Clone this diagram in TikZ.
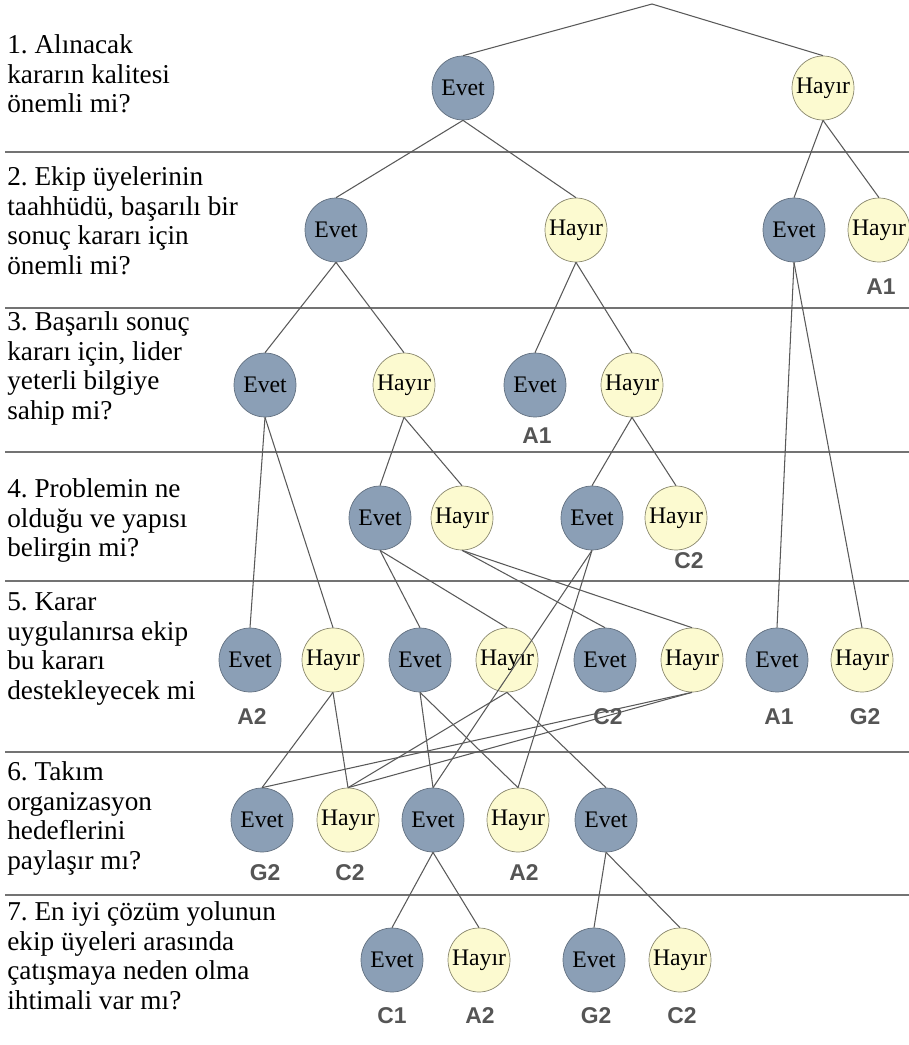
\documentclass[tikz,border=0pt]{standalone}
\usepackage{fontspec}
\setmainfont{Liberation Serif}
\setsansfont{Liberation Sans}
\usepackage{xcolor}
\usepackage{tikz}
\usetikzlibrary{shapes.geometric}
\frenchspacing

\definecolor{evetrenk}{RGB}{139,159,182}
\definecolor{evetkenar}{RGB}{98,112,128}
\definecolor{hayirrenk}{RGB}{252,250,208}
\definecolor{hayirkenar}{RGB}{138,136,110}
\definecolor{sonucgri}{RGB}{85,85,85}

\begin{document}
\begin{tikzpicture}[x=0.02cm, y=-0.02cm,
    cevap/.style={ellipse, draw, minimum width=1.24cm, minimum height=1.28cm, inner xsep=-3pt, inner ysep=0pt, font=\fontsize{13.5}{15}\selectfont},
    evet/.style={cevap, fill=evetrenk, draw=evetkenar},
    hayir/.style={cevap, fill=hayirrenk, draw=hayirkenar},
    soru/.style={anchor=north west, align=left, inner sep=0pt, font=\fontsize{15.5}{17}\selectfont},
    sonuc/.style={font=\sffamily\bfseries\fontsize{13}{15}\selectfont, text=sonucgri},
    kol/.style={draw=black!65, line width=0.6pt},
    ayrac/.style={draw=black!55, line width=1.1pt}
]
\useasboundingbox (0,0) rectangle (909,1045);

\draw[ayrac] (5,152) -- (909,152);
\draw[ayrac] (5,308) -- (909,308);
\draw[ayrac] (5,452) -- (909,452);
\draw[ayrac] (5,581) -- (909,581);
\draw[ayrac] (5,752) -- (909,752);
\draw[ayrac] (5,895) -- (909,895);

\node[soru] at (7,34) (q1) {1. Alınacak\\kararın kalitesi\\önemli mi?};
\node[soru] at (7,166) (q2) {2. Ekip üyelerinin\\taahhüdü, başarılı bir\\sonuç kararı için\\önemli mi?};
\node[soru] at (7,311) (q3) {3. Başarılı sonuç\\kararı için, lider\\yeterli bilgiye\\sahip mi?};
\node[soru] at (7,478) (q4) {4. Problemin ne\\olduğu ve yapısı\\belirgin mi?};
\node[soru] at (7,592) (q5) {5. Karar\\uygulanırsa ekip\\bu kararı\\destekleyecek mi};
\node[soru] at (7,761) (q6) {6. Takım\\organizasyon\\hedeflerini\\paylaşır mı?};
\node[soru] at (7,901) (q7) {7. En iyi çözüm yolunun\\ekip üyeleri arasında\\çatışmaya neden olma\\ihtimali var mı?};

\coordinate (tepe) at (652,4);

\node[evet] at (463,88) (e1) {Evet};
\node[hayir] at (823,88) (h1) {Hayır};

\node[evet] at (336,230) (e2a) {Evet};
\node[hayir] at (576,230) (h2a) {Hayır};
\node[evet] at (794,230) (e2b) {Evet};
\node[hayir] at (879,230) (h2b) {Hayır};

\node[evet] at (265,385) (e3a) {Evet};
\node[hayir] at (404,385) (h3a) {Hayır};
\node[evet] at (535,385) (e3b) {Evet};
\node[hayir] at (632,385) (h3b) {Hayır};

\node[evet] at (380,518) (e4a) {Evet};
\node[hayir] at (462,518) (h4a) {Hayır};
\node[evet] at (592,518) (e4b) {Evet};
\node[hayir] at (676,518) (h4b) {Hayır};

\node[evet] at (250,660) (e5a) {Evet};
\node[hayir] at (333,660) (h5b) {Hayır};
\node[evet] at (420,660) (e5c) {Evet};
\node[hayir] at (507,660) (h5d) {Hayır};
\node[evet] at (605,660) (e5e) {Evet};
\node[hayir] at (692,660) (h5f) {Hayır};
\node[evet] at (777,660) (e5g) {Evet};
\node[hayir] at (862,660) (h5h) {Hayır};

\node[evet] at (262,820) (e6a) {Evet};
\node[hayir] at (348,820) (h6b) {Hayır};
\node[evet] at (433,820) (e6c) {Evet};
\node[hayir] at (518,820) (h6d) {Hayır};
\node[evet] at (606,820) (e6e) {Evet};

\node[evet] at (392,960) (e7a) {Evet};
\node[hayir] at (479,960) (h7b) {Hayır};
\node[evet] at (594,960) (e7c) {Evet};
\node[hayir] at (680,960) (h7d) {Hayır};

\node[sonuc] at (881,287) (s2b) {A1};
\node[sonuc] at (537,436) (s3b) {A1};
\node[sonuc] at (689,561) (s4b) {C2};
\node[sonuc] at (252,717) (s5a) {A2};
\node[sonuc] at (608,717) (s5e) {C2};
\node[sonuc] at (779,717) (s5g) {A1};
\node[sonuc] at (865,717) (s5h) {G2};
\node[sonuc] at (265,873) (s6a) {G2};
\node[sonuc] at (350,873) (s6b) {C2};
\node[sonuc] at (524,873) (s6d) {A2};
\node[sonuc] at (392,1016) (s7a) {C1};
\node[sonuc] at (480,1016) (s7b) {A2};
\node[sonuc] at (596,1016) (s7c) {G2};
\node[sonuc] at (682,1016) (s7d) {C2};

\draw[kol] (tepe) -- (e1.north);
\draw[kol] (tepe) -- (h1.north);
\draw[kol] (e1.south) -- (e2a.north);
\draw[kol] (e1.south) -- (h2a.north);
\draw[kol] (h1.south) -- (e2b.north);
\draw[kol] (h1.south) -- (h2b.north);
\draw[kol] (e2a.south) -- (e3a.north);
\draw[kol] (e2a.south) -- (h3a.north);
\draw[kol] (h2a.south) -- (e3b.north);
\draw[kol] (h2a.south) -- (h3b.north);
\draw[kol] (e2b.south) -- (e5g.north);
\draw[kol] (e2b.south) -- (h5h.north);
\draw[kol] (e3a.south) -- (e5a.north);
\draw[kol] (e3a.south) -- (h5b.north);
\draw[kol] (h3a.south) -- (e4a.north);
\draw[kol] (h3a.south) -- (h4a.north);
\draw[kol] (h3b.south) -- (e4b.north);
\draw[kol] (h3b.south) -- (h4b.north);
\draw[kol] (e4a.south) -- (e5c.north);
\draw[kol] (e4a.south) -- (h5d.north);
\draw[kol] (h4a.south) -- (e5e.north);
\draw[kol] (h4a.south) -- (h5f.north);
\draw[kol] (e4b.south) -- (e6c.north);
\draw[kol] (e4b.south) -- (h6d.north);
\draw[kol] (h5b.south) -- (e6a.north);
\draw[kol] (h5b.south) -- (h6b.north);
\draw[kol] (e5c.south) -- (e6c.north);
\draw[kol] (e5c.south) -- (h6d.north);
\draw[kol] (h5d.south) -- (h6b.north);
\draw[kol] (h5d.south) -- (e6e.north);
\draw[kol] (h5f.south) -- (e6a.north);
\draw[kol] (h5f.south) -- (h6b.north);
\draw[kol] (e6c.south) -- (e7a.north);
\draw[kol] (e6c.south) -- (h7b.north);
\draw[kol] (e6e.south) -- (e7c.north);
\draw[kol] (e6e.south) -- (h7d.north);
\end{tikzpicture}
\end{document}
